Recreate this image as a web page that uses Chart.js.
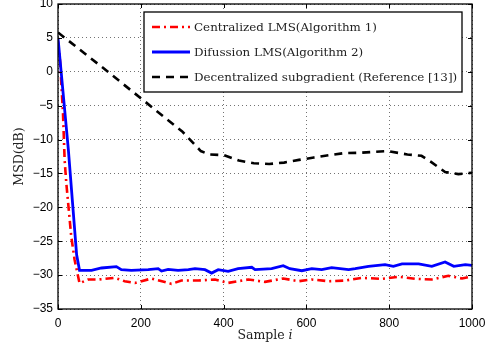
<!DOCTYPE html>
<html>
<head>
<meta charset="utf-8">
<script src="https://cdn.jsdelivr.net/npm/chart.js@4.4.0/dist/chart.umd.min.js"></script>
<style>
    html, body { margin: 0; padding: 0; background: #fff; }
</style>
</head>
<body>
<canvas id="msdChart" width="493" height="348"></canvas>
<script>
// MSD curves, values (sample index / dB)
const seriesLabels = [
    'Centralized LMS(Algorithm 1)',
    'Difussion LMS(Algorithm 2)',
    'Decentralized subgradient (Reference [13])'
];

const centralX = [0, 5, 12, 16, 20, 32, 40, 52, 73, 97, 137, 161, 186, 226, 258, 274, 298, 339, 379, 411, 460, 500, 544, 581, 613, 653, 694, 734, 782, 823, 863, 903, 943, 976, 1000];
const centralY = [4.5, 1.5, -6, -13, -16.4, -24.3, -27.7, -31.2, -30.65, -30.65, -30.4, -30.9, -31.15, -30.5, -31.0, -31.3, -30.8, -30.8, -30.65, -31.15, -30.65, -31.0, -30.5, -30.9, -30.65, -30.9, -30.8, -30.4, -30.55, -30.25, -30.55, -30.65, -30.1, -30.5, -30.2];

const diffX = [0, 25, 45, 52, 81, 105, 141, 153, 177, 218, 242, 250, 266, 290, 315, 331, 355, 371, 387, 411, 435, 468, 476, 516, 544, 560, 589, 613, 637, 661, 702, 718, 750, 790, 810, 831, 871, 903, 935, 956, 984, 1000];
const diffY = [5, -11.5, -27, -29.3, -29.3, -28.95, -28.75, -29.2, -29.3, -29.2, -29.05, -29.4, -29.15, -29.3, -29.2, -29.05, -29.2, -29.7, -29.2, -29.45, -29.05, -28.85, -29.2, -29.05, -28.6, -29.05, -29.35, -29.05, -29.2, -28.9, -29.2, -29.05, -28.7, -28.45, -28.7, -28.35, -28.35, -28.7, -28.05, -28.7, -28.45, -28.55];

const subgradX = [0, 100, 200, 300, 345, 365, 401, 437, 473, 510, 546, 582, 618, 655, 692, 731, 766, 795, 844, 878, 901, 935, 967, 1000];
const subgradY = [5.8, 1.0, -3.9, -8.8, -11.7, -12.2, -12.3, -13.1, -13.5, -13.6, -13.4, -13.0, -12.65, -12.3, -12.0, -11.95, -11.8, -11.7, -12.2, -12.4, -13.3, -14.8, -15.1, -14.9];

const xTicks = [0, 200, 400, 600, 800, 1000];
const yTicks = [-35, -30, -25, -20, -15, -10, -5, 0, 5, 10];

function toPoints(xs, ys) {
    return xs.map((x, i) => ({ x: x, y: ys[i] }));
}

const serifFont = '"DejaVu Serif", serif';
const sansFont = '"Liberation Sans", Arial, sans-serif';

// box, inward ticks, x title and legend drawn on top
const framePlugin = {
    id: 'frame',
    afterDraw(chart) {
        const { ctx, chartArea: a, scales: { x, y } } = chart;
        ctx.save();
        ctx.strokeStyle = '#000';
        ctx.lineWidth = 1;
        ctx.setLineDash([]);
        ctx.beginPath();
        x.ticks.forEach(t => {
            const px = Math.round(x.getPixelForValue(t.value)) + 0.5;
            ctx.moveTo(px, a.bottom); ctx.lineTo(px, a.bottom - 4);
            ctx.moveTo(px, a.top); ctx.lineTo(px, a.top + 4);
        });
        y.ticks.forEach(t => {
            const py = Math.round(y.getPixelForValue(t.value)) + 0.5;
            ctx.moveTo(a.left, py); ctx.lineTo(a.left + 4, py);
            ctx.moveTo(a.right, py); ctx.lineTo(a.right - 4, py);
        });
        ctx.stroke();
        ctx.lineWidth = 1.3;
        ctx.strokeRect(a.left, a.top, a.right - a.left, a.bottom - a.top);

        // x axis title with italic i
        ctx.fillStyle = '#222';
        ctx.textBaseline = 'middle';
        const part1 = 'Sample ';
        ctx.font = 'italic 12.5px ' + serifFont;
        const wi = ctx.measureText('i').width;
        ctx.font = '12.5px ' + serifFont;
        const w1 = ctx.measureText(part1).width;
        const cx = (a.left + a.right) / 2;
        const ty = 336;
        ctx.textAlign = 'left';
        ctx.fillText(part1, cx - (w1 + wi) / 2, ty);
        ctx.font = 'italic 12.5px ' + serifFont;
        ctx.fillText('i', cx - (w1 + wi) / 2 + w1, ty);

        // legend
        const box = { left: 144, top: 12, right: 462, bottom: 92 };
        ctx.fillStyle = '#fff';
        ctx.fillRect(box.left, box.top, box.right - box.left, box.bottom - box.top);
        ctx.lineWidth = 1.3;
        ctx.strokeStyle = '#000';
        ctx.strokeRect(box.left, box.top, box.right - box.left, box.bottom - box.top);
        chart.data.datasets.forEach((ds, i) => {
            const ry = 27 + i * 25;
            ctx.beginPath();
            ctx.strokeStyle = ds.borderColor;
            ctx.lineWidth = ds.borderWidth;
            ctx.setLineDash(ds.borderDash || []);
            ctx.moveTo(152, ry);
            ctx.lineTo(190, ry);
            ctx.stroke();
            ctx.setLineDash([]);
            ctx.fillStyle = '#222';
            ctx.font = '11.9px ' + serifFont;
            ctx.textAlign = 'left';
            ctx.textBaseline = 'middle';
            ctx.fillText(ds.label, 194, ry + 1);
        });
        ctx.restore();
    }
};

function noPadding(scale) {
    scale.paddingLeft = 0;
    scale.paddingRight = 0;
    scale.paddingTop = 0;
    scale.paddingBottom = 0;
}

new Chart(document.getElementById('msdChart'), {
    type: 'line',
    data: {
        datasets: [
            {
                label: seriesLabels[0],
                data: toPoints(centralX, centralY),
                borderColor: '#ff0000',
                borderWidth: 2.6,
                borderDash: [8, 4, 2, 4],
                order: 3
            },
            {
                label: seriesLabels[1],
                data: toPoints(diffX, diffY),
                borderColor: '#0000ff',
                borderWidth: 2.8,
                order: 2
            },
            {
                label: seriesLabels[2],
                data: toPoints(subgradX, subgradY),
                borderColor: '#000000',
                borderWidth: 2.6,
                borderDash: [8, 6],
                order: 1
            }
        ]
    },
    options: {
        responsive: false,
        animation: false,
        layout: { padding: { left: 0, top: 4, right: 21, bottom: 0 } },
        elements: {
            point: { radius: 0 },
            line: { tension: 0, borderCapStyle: 'butt', fill: false }
        },
        plugins: {
            legend: { display: false },
            tooltip: { enabled: false }
        },
        scales: {
            x: {
                type: 'linear',
                min: 0,
                max: 1000,
                afterBuildTicks: s => { s.ticks = xTicks.map(v => ({ value: v })); },
                afterFit: s => { s.height = 39; noPadding(s); },
                grid: { color: 'rgba(0,0,0,0.55)', lineWidth: 1, drawTicks: false },
                border: { display: false, dash: [1, 3] },
                ticks: {
                    color: '#000',
                    padding: 7,
                    maxRotation: 0,
                    font: { family: sansFont, size: 12 },
                    callback: v => String(v)
                }
            },
            y: {
                min: -35,
                max: 10,
                afterBuildTicks: s => { s.ticks = yTicks.map(v => ({ value: v })); },
                afterFit: s => { s.width = 58; noPadding(s); },
                grid: { color: 'rgba(0,0,0,0.55)', lineWidth: 1, drawTicks: false },
                border: { display: false, dash: [1, 3] },
                ticks: {
                    color: '#000',
                    padding: 5,
                    font: { family: sansFont, size: 12 },
                    callback: v => (v < 0 ? '\u2212' + Math.abs(v) : String(v))
                },
                title: {
                    display: true,
                    text: 'MSD(dB)',
                    color: '#222',
                    padding: { top: 12.5, bottom: 0 },
                    font: { family: serifFont, size: 12.5 }
                }
            }
        }
    },
    plugins: [framePlugin]
});
</script>
</body>
</html>
